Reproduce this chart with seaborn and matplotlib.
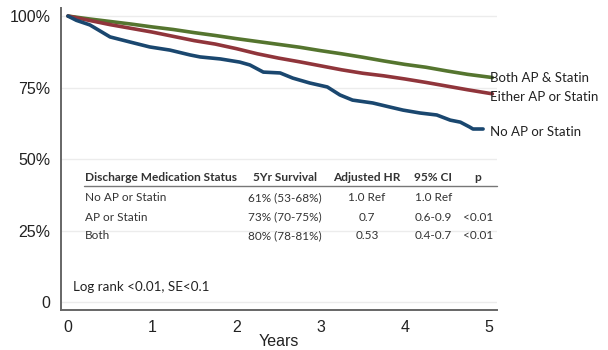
import matplotlib
matplotlib.use("Agg")
import matplotlib.pyplot as plt
import seaborn as sns
import pandas as pd

# Kaplan-Meier curves
both_years = [0, 0.25, 0.5, 0.75, 1.0, 1.25, 1.5, 1.75, 2.0, 2.25, 2.5, 2.75,
              3.0, 3.25, 3.5, 3.75, 4.0, 4.25, 4.5, 4.75, 5.04]
both_surv = [1.0, 0.99, 0.981, 0.972, 0.962, 0.953, 0.942, 0.932, 0.921, 0.911,
             0.901, 0.891, 0.879, 0.868, 0.856, 0.843, 0.831, 0.821, 0.808,
             0.796, 0.785]

either_years = [0, 0.25, 0.5, 0.75, 1.0, 1.25, 1.5, 1.75, 2.0, 2.25, 2.5, 2.75,
                3.0, 3.25, 3.5, 3.75, 4.0, 4.25, 4.5, 4.75, 5.04]
either_surv = [1.0, 0.985, 0.97, 0.957, 0.944, 0.929, 0.914, 0.902, 0.886,
               0.868, 0.853, 0.84, 0.826, 0.812, 0.80, 0.791, 0.78, 0.768,
               0.755, 0.742, 0.728]

none_years = [0, 0.1, 0.26, 0.5, 0.74, 0.97, 1.21, 1.45, 1.57, 1.81, 2.04, 2.16,
              2.32, 2.52, 2.67, 2.87, 3.08, 3.23, 3.38, 3.62, 3.82, 3.98, 4.18,
              4.38, 4.54, 4.66, 4.77, 4.81, 4.93]
none_surv = [1.0, 0.985, 0.969, 0.927, 0.909, 0.892, 0.881, 0.864, 0.857, 0.85,
             0.839, 0.829, 0.804, 0.801, 0.783, 0.766, 0.752, 0.724, 0.706,
             0.696, 0.682, 0.671, 0.661, 0.654, 0.636, 0.629, 0.612, 0.605,
             0.605]

groups = ["Both AP & Statin", "Either AP or Statin", "No AP or Statin"]
colors = ["#55752f", "#90353b", "#1a476f"]

table_header = ["Discharge Medication Status", "5Yr Survival", "Adjusted HR",
                "95% CI", "p"]
table_rows = [
    ["No AP or Statin", "61% (53-68%)", "1.0 Ref", "1.0 Ref", ""],
    ["AP or Statin", "73% (70-75%)", "0.7", "0.6-0.9", "<0.01"],
    ["Both", "80% (78-81%)", "0.53", "0.4-0.7", "<0.01"],
]

y_ticks = [0, 0.25, 0.5, 0.75, 1.0]
y_labels = ["0", "25%", "50%", "75%", "100%"]
x_ticks = [0, 1, 2, 3, 4, 5]

frames = []
for name, xs, ys in [(groups[0], both_years, both_surv),
                     (groups[1], either_years, either_surv),
                     (groups[2], none_years, none_surv)]:
    frames.append(pd.DataFrame({"group": name, "years": xs, "surv": ys}))
data = pd.concat(frames, ignore_index=True)

sns.set_style("white")
plt.rcParams["font.family"] = ["Liberation Sans", "DejaVu Sans"]

fig = plt.figure(figsize=(6.08, 3.5), dpi=100)
ax = fig.add_axes([0.1003, 0.1143, 0.7171, 0.8627])

sns.lineplot(data=data, x="years", y="surv", hue="group", hue_order=groups,
             palette=colors, linewidth=2.6, ax=ax, legend=False, sort=False,
             estimator=None, zorder=3)

ax.set_xlim(-0.083, 5.095)
ax.set_ylim(-0.028, 1.028)
ax.set_yticks(y_ticks)
ax.set_yticklabels(y_labels)
ax.set_xticks(x_ticks)
ax.tick_params(axis="both", labelsize=11.5, colors="#222222", length=4,
               width=1.0, direction="out")
ax.tick_params(axis="both", color="#666666")
ax.yaxis.grid(True, color="#ececec", linewidth=1.0)
ax.set_axisbelow(True)
for s in ["top", "right"]:
    ax.spines[s].set_visible(False)
for s in ["left", "bottom"]:
    ax.spines[s].set_color("#666666")
    ax.spines[s].set_linewidth(1.4)
ax.set_xlabel("Years", fontsize=11.5, color="#222222")
ax.xaxis.set_label_coords(0.5, -0.08)
ax.set_ylabel("")

# curve end labels
lab_font = dict(family="Lato", fontsize=9.5, color="#222222", va="center",
                ha="left", clip_on=False)
ends = [(both_years[-1], both_surv[-1]), (either_years[-1], either_surv[-1]),
        (none_years[-1], none_surv[-1])]
offsets = [0.0, -0.01, -0.01]
for name, (ex, ey), off in zip(groups, ends, offsets):
    ax.text(5.01, ey + off, name, **lab_font)

# table
col_x = [0.2, 2.58, 3.55, 4.34, 4.87]
col_ha = ["left", "center", "center", "center", "center"]
for cx, ha, h in zip(col_x, col_ha, table_header):
    ax.text(cx, 0.434, h, family="Lato", fontsize=8.6, fontweight="bold",
            color="#333333", ha=ha, va="center")
ax.plot([0.19, 5.1], [0.405, 0.405], color="#777777", linewidth=1.0,
        clip_on=False)
row_y = [0.364, 0.297, 0.231]
for ry, row in zip(row_y, table_rows):
    for cx, ha, cell in zip(col_x, col_ha, row):
        ax.text(cx, ry, cell, family="Lato", fontsize=8.5, color="#333333",
                ha=ha, va="center")

ax.text(0.06, 0.052, "Log rank <0.01, SE<0.1", family="Lato", fontsize=9.6,
        color="#222222", ha="left", va="center")

fig.savefig("out.png", dpi=100)
